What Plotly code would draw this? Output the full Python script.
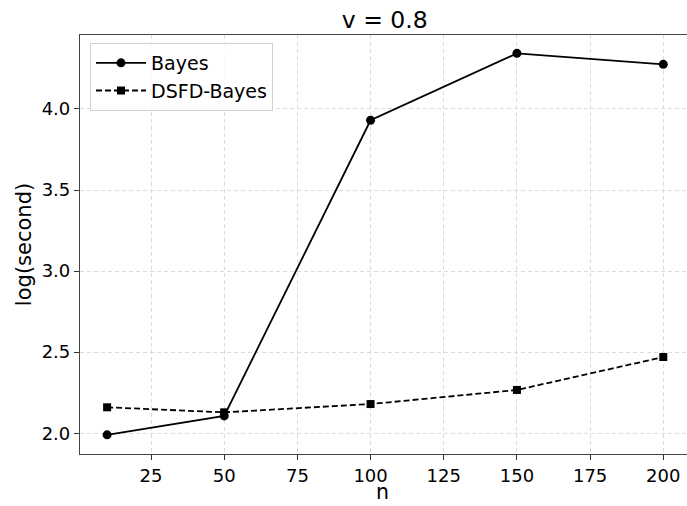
import plotly.graph_objects as go

n_vals = [10, 50, 100, 150, 200]
bayes = [1.99, 2.107, 3.93, 4.343, 4.275]
dsfd_bayes = [2.16, 2.129, 2.18, 2.267, 2.47]
x_ticks = [25, 50, 75, 100, 125, 150, 175, 200]
y_ticks = [2.0, 2.5, 3.0, 3.5, 4.0]

fig = go.Figure()
fig.add_trace(go.Scatter(x=n_vals, y=bayes, mode="lines+markers", name="Bayes",
                         line=dict(color="black", width=1.8),
                         marker=dict(symbol="circle", size=9, color="black")))
fig.add_trace(go.Scatter(x=n_vals, y=dsfd_bayes, mode="lines+markers", name="DSFD-Bayes",
                         line=dict(color="black", width=1.8, dash="6px,3px"),
                         marker=dict(symbol="square", size=8, color="black")))

fig.update_layout(
    width=687, height=506,
    margin=dict(l=80, r=0, t=35, b=52, autoexpand=False),
    paper_bgcolor="white", plot_bgcolor="white",
    font=dict(family="DejaVu Sans", color="black", size=18),
    title=dict(text="v = 0.8", x=0.560, xanchor="center", y=0.961, yanchor="middle",
               font=dict(size=23.5)),
    showlegend=True,
    legend=dict(x=0.0165, y=0.981, xanchor="left", yanchor="top",
                bgcolor="rgba(255,255,255,0.8)", bordercolor="#d0d0d0", borderwidth=1,
                font=dict(size=19), itemwidth=50),
    annotations=[dict(text="n", xref="paper", yref="paper", x=0.499, y=-0.1217,
                      xanchor="center", yanchor="bottom", showarrow=False, borderpad=0,
                      font=dict(size=20.5, color="black"))],
)
fig.update_xaxes(range=[0.74, 208.1], tickvals=x_ticks, ticks="outside", ticklen=5,
                 tickcolor="#333", showline=True, linecolor="#444", linewidth=1.2, mirror=True,
                 showgrid=True, gridcolor="#dcdcdc", griddash="4px,3px", gridwidth=1,
                 zeroline=False, tickfont=dict(size=18), automargin=False)
fig.update_yaxes(range=[1.872, 4.456], tickvals=y_ticks, tickformat=".1f", ticks="outside",
                 ticklen=5, tickcolor="#333", showline=True, linecolor="#444", linewidth=1.2,
                 showgrid=True, gridcolor="#dcdcdc", griddash="4px,3px", gridwidth=1,
                 zeroline=False, tickfont=dict(size=18), automargin=False,
                 title=dict(text="log(second)", font=dict(size=21), standoff=4))

fig.write_html(
    "out.html",
    config={"displayModeBar": False},
    post_script="document.body.style.margin='0';document.body.style.overflow='hidden';"
                "document.documentElement.style.overflow='hidden';",
)
